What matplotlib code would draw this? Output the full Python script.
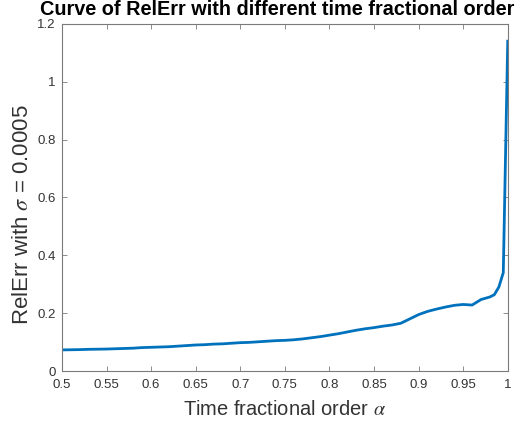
import numpy as np
import matplotlib
matplotlib.use("Agg")
import matplotlib.pyplot as plt
from matplotlib.ticker import FuncFormatter

# time fractional order alpha and relative error
alpha = [0.50, 0.51, 0.52, 0.53, 0.54, 0.55, 0.56, 0.57, 0.58, 0.59,
         0.60, 0.61, 0.62, 0.63, 0.64, 0.65, 0.66, 0.67, 0.68, 0.69,
         0.70, 0.71, 0.72, 0.73, 0.74, 0.75, 0.76, 0.77, 0.78, 0.79,
         0.80, 0.81, 0.82, 0.83, 0.84, 0.85, 0.86, 0.87, 0.88, 0.89,
         0.90, 0.91, 0.92, 0.93, 0.94, 0.95, 0.96, 0.97, 0.98, 0.985,
         0.99, 0.995, 1.00]
relerr = [0.073, 0.0735, 0.074, 0.075, 0.0755, 0.076, 0.077, 0.078, 0.079, 0.081,
          0.082, 0.083, 0.084, 0.086, 0.088, 0.090, 0.091, 0.093, 0.094, 0.096,
          0.098, 0.099, 0.101, 0.103, 0.105, 0.106, 0.108, 0.111, 0.115, 0.119,
          0.124, 0.129, 0.135, 0.141, 0.146, 0.150, 0.155, 0.159, 0.165, 0.180,
          0.195, 0.206, 0.214, 0.221, 0.227, 0.230, 0.228, 0.247, 0.256, 0.264,
          0.29, 0.34, 1.14]

xticks = [0.5, 0.55, 0.6, 0.65, 0.7, 0.75, 0.8, 0.85, 0.9, 0.95, 1.0]
yticks = [0, 0.2, 0.4, 0.6, 0.8, 1.0, 1.2]

plt.rcParams['font.family'] = ['Liberation Sans', 'DejaVu Sans']
plt.rcParams['mathtext.fontset'] = 'stix'

fig = plt.figure(figsize=(5.3, 4.25), dpi=100)
ax = fig.add_axes([0.117, 0.127, 0.841, 0.817])

ax.plot(alpha, relerr, color='#0072BD', linewidth=2.0)

ax.set_xlim(0.5, 1.0)
ax.set_ylim(0, 1.2)
ax.set_xticks(xticks)
ax.set_yticks(yticks)
fmt = FuncFormatter(lambda v, p: '%g' % round(v, 3))
ax.xaxis.set_major_formatter(fmt)
ax.yaxis.set_major_formatter(fmt)

edge = '#7a7a7a'
for s in ax.spines.values():
    s.set_color(edge)
    s.set_linewidth(0.8)
ax.tick_params(direction='in', top=True, right=True, length=3.5, width=0.6,
               colors=edge, labelcolor='#333333', labelsize=9.5)
ax.tick_params(axis='x', pad=6)
ax.tick_params(axis='y', pad=4.5)

ax.set_xlabel(r'Time fractional order $\alpha$', fontsize=14.5, color='#333333', labelpad=6)
ax.set_ylabel(r'RelErr with $\sigma$ = 0.0005', fontsize=16, color='#333333')
ax.yaxis.set_label_coords(-0.065, 0.45)
ax.set_title('Curve of RelErr with different time fractional order',
             fontsize=14.3, fontweight='bold', pad=6.5, x=0.482)

fig.savefig('out.png', dpi=100)
